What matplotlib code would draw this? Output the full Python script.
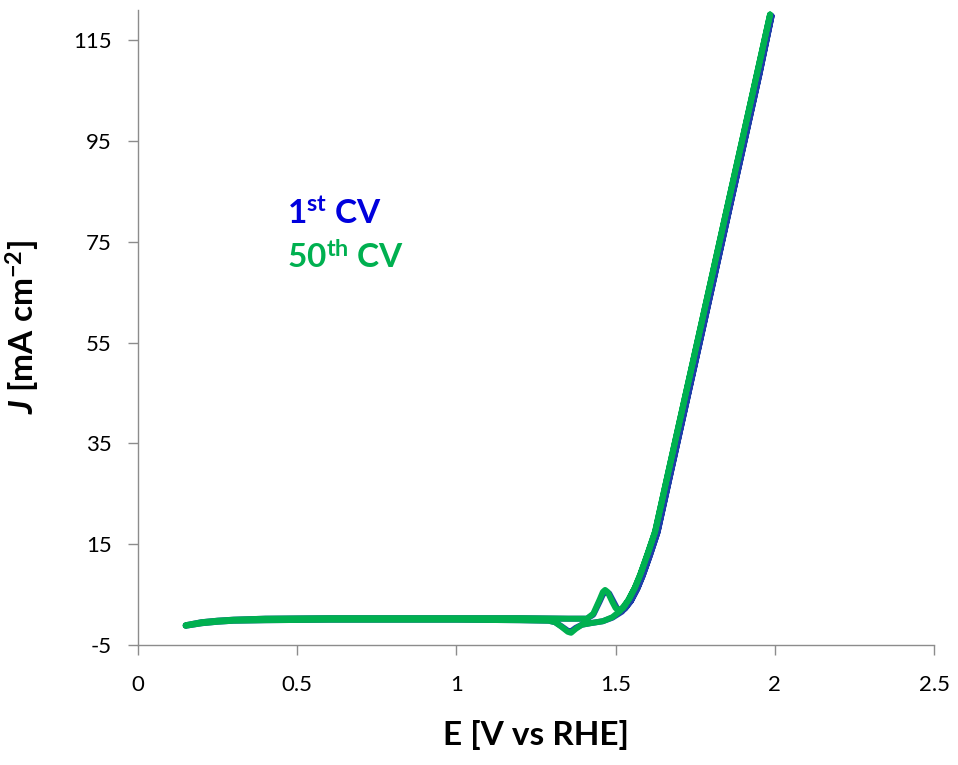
import matplotlib
matplotlib.use("Agg")
import matplotlib.pyplot as plt

plt.rcParams['font.family'] = ['Lato', 'DejaVu Sans']
plt.rcParams['axes.unicode_minus'] = False
plt.rcParams['mathtext.fontset'] = 'custom'
plt.rcParams['mathtext.rm'] = 'Lato:bold'
plt.rcParams['mathtext.bf'] = 'Lato:bold'
plt.rcParams['mathtext.it'] = 'Lato:bold:italic'

# CV, 50th cycle (green): forward then reverse scan
E_50 = [0.15, 0.2, 0.25, 0.3, 0.4, 0.6, 0.8, 1.0, 1.2, 1.35, 1.41, 1.43, 1.45, 1.46, 1.467,
        1.475, 1.49, 1.50, 1.51, 1.525, 1.54, 1.56, 1.577, 1.60, 1.624, 1.665, 1.708, 1.756,
        1.8, 1.86, 1.9, 1.944, 1.985,
        1.944, 1.9, 1.86, 1.8, 1.756, 1.708, 1.665, 1.624, 1.60, 1.577, 1.56, 1.54, 1.515,
        1.49, 1.46, 1.42, 1.394, 1.375, 1.36, 1.35, 1.33, 1.31, 1.29, 1.2, 1.0, 0.8, 0.6,
        0.4, 0.3, 0.25, 0.2, 0.15]
J_50 = [-1.1, -0.5, -0.2, 0.0, 0.2, 0.3, 0.3, 0.3, 0.3, 0.2, 0.2, 1.2, 4.0, 5.5, 5.9,
        5.5, 3.5, 2.3, 1.9, 2.4, 3.9, 6.3, 8.9, 13.0, 17.5, 29.2, 41.4, 55.0,
        67.5, 84.6, 95.9, 108.4, 120.1,
        108.4, 95.9, 84.6, 67.5, 55.0, 41.4, 29.2, 17.5, 13.0, 8.9, 6.3, 3.9, 1.8,
        0.5, -0.3, -0.7, -1.0, -1.8, -2.6, -2.4, -1.4, -0.5, -0.2, -0.1, 0.0, 0.0, 0.0,
        -0.1, -0.2, -0.4, -0.7, -1.2]

# CV, 1st cycle (blue): nearly the same, slightly later onset
E_1 = [0.15, 0.2, 0.25, 0.3, 0.4, 0.6, 0.8, 1.0, 1.2, 1.35, 1.41, 1.43, 1.45, 1.46, 1.47,
       1.48, 1.495, 1.505, 1.515, 1.53, 1.548, 1.568, 1.585, 1.608, 1.632, 1.673, 1.716, 1.764,
       1.808, 1.868, 1.908, 1.952, 1.99,
       1.952, 1.908, 1.868, 1.808, 1.764, 1.716, 1.673, 1.632, 1.608, 1.585, 1.568, 1.548, 1.52,
       1.49, 1.46, 1.42, 1.394, 1.375, 1.36, 1.35, 1.33, 1.31, 1.29, 1.2, 1.0, 0.8, 0.6,
       0.4, 0.3, 0.25, 0.2, 0.15]
J_1 = [-1.1, -0.5, -0.2, 0.0, 0.2, 0.3, 0.3, 0.3, 0.3, 0.2, 0.2, 1.0, 3.6, 5.0, 5.5,
       5.2, 3.4, 2.2, 1.7, 2.2, 3.7, 6.1, 8.7, 12.8, 17.4, 29.1, 41.3, 54.9,
       67.4, 84.5, 95.8, 108.3, 119.8,
       108.3, 95.8, 84.5, 67.4, 54.9, 41.3, 29.1, 17.4, 12.8, 8.7, 6.1, 3.7, 1.6,
       0.4, -0.3, -0.7, -1.0, -1.6, -2.3, -2.2, -1.3, -0.5, -0.2, -0.1, 0.0, 0.0, 0.0,
       -0.1, -0.2, -0.4, -0.7, -1.2]

x_ticks = [0, 0.5, 1, 1.5, 2, 2.5]
x_ticklabels = ['0', '0.5', '1', '1.5', '2', '2.5']
y_ticks = [-5, 15, 35, 55, 75, 95, 115]

fig = plt.figure(figsize=(9.58, 7.65), dpi=100)
ax = fig.add_axes([0.144, 0.157, 0.831, 0.830])

ax.plot(E_1, J_1, color='#1f3fa8', lw=4.3, solid_joinstyle='round', solid_capstyle='round')
ax.plot(E_50, J_50, color='#00b050', lw=4.3, solid_joinstyle='round', solid_capstyle='round')

ax.set_xlim(0, 2.5)
ax.set_ylim(-5, 121)
ax.set_xticks(x_ticks)
ax.set_xticklabels(x_ticklabels)
ax.set_yticks(y_ticks)

for s in ['top', 'right']:
    ax.spines[s].set_visible(False)
for s in ['left', 'bottom']:
    ax.spines[s].set_color('#8c8c8c')
    ax.spines[s].set_linewidth(1.0)
ax.tick_params(axis='both', direction='out', colors='#8c8c8c', labelcolor='black',
               length=7, width=1.0, labelsize=16)
ax.tick_params(axis='x', pad=15)
ax.tick_params(axis='y', pad=12)

ax.set_xlabel('E [V vs RHE]', fontsize=24, fontweight='bold', labelpad=18)
ax.set_ylabel(r'$J$ [mA cm$^{-2}$]', fontsize=24, fontweight='bold', labelpad=22)

ax.text(0.468, 78.6, r'1$^{\mathrm{st}}$ CV', color='#0000dd', fontsize=24,
        fontweight='bold', va='baseline')
ax.text(0.468, 69.6, r'50$^{\mathrm{th}}$ CV', color='#00b050', fontsize=24,
        fontweight='bold', va='baseline')

fig.savefig('out.png', dpi=100)
